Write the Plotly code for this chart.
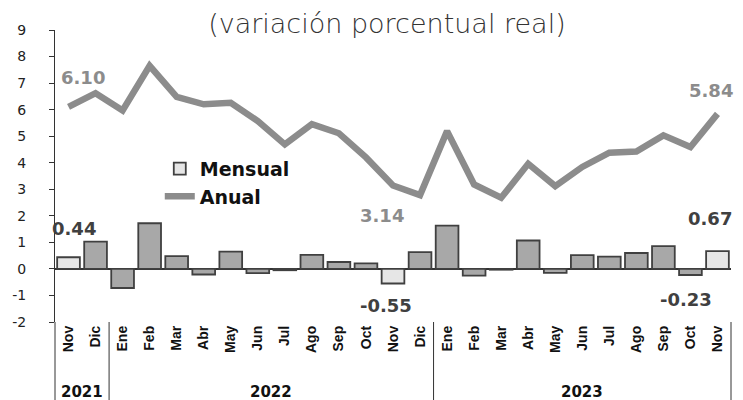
import plotly.graph_objects as go

months = ["Nov", "Dic", "Ene", "Feb", "Mar", "Abr", "May", "Jun", "Jul", "Ago", "Sep", "Oct", "Nov",
          "Dic", "Ene", "Feb", "Mar", "Abr", "May", "Jun", "Jul", "Ago", "Sep", "Oct", "Nov"]
mensual = [0.44, 1.03, -0.72, 1.72, 0.48, -0.21, 0.65, -0.16, -0.05, 0.53, 0.26, 0.21, -0.55,
           0.63, 1.63, -0.25, -0.03, 1.07, -0.15, 0.52, 0.46, 0.60, 0.86, -0.23, 0.67]
anual = [6.10, 6.62, 5.97, 7.65, 6.48, 6.20, 6.26, 5.57, 4.69, 5.45, 5.11, 4.20, 3.14,
         2.78, 5.19, 3.18, 2.68, 3.96, 3.12, 3.84, 4.38, 4.42, 5.03, 4.59, 5.84]
years = ["2021", "2022", "2023"]
year_counts = [2, 12, 11]
highlight = [0, 12, 24]
y_ticks = [-2, -1, 0, 1, 2, 3, 4, 5, 6, 7, 8, 9]
y_ticktext = ["-2", "-1", "0", "1", "2", "3", "4", "5", "6", "7", "8", "9"]

x = list(range(len(months)))
n = len(months)

bar_colors = ["#e6e6e6" if i in highlight else "#a8a8a8" for i in x]

fig = go.Figure()
fig.add_trace(go.Bar(x=x, y=mensual, name="Mensual", width=0.84,
                     marker=dict(color=bar_colors, line=dict(color="#404040", width=1.8))))
fig.add_trace(go.Scatter(x=x, y=anual, name="Anual", mode="lines",
                         line=dict(color="#8c8c8c", width=6.5)))

lab_font_line = dict(family="DejaVu Sans", size=18, color="#8c8c8c", weight="bold")
lab_font_bar = dict(family="DejaVu Sans", size=18, color="#404040", weight="bold")
ann = []
# line labels (offsets in pixels from the data point)
ann.append(dict(x=0, y=anual[0], text="6.10", xshift=14, yshift=29, font=lab_font_line))
ann.append(dict(x=12, y=anual[12], text="3.14", xshift=-11, yshift=-30, font=lab_font_line))
ann.append(dict(x=24, y=anual[24], text="5.84", xshift=-6, yshift=23, font=lab_font_line))
# bar labels
ann.append(dict(x=0, y=mensual[0], text="0.44", xshift=5, yshift=29, font=lab_font_bar))
ann.append(dict(x=12, y=mensual[12], text="-0.55", xshift=-7, yshift=-22, font=lab_font_bar))
ann.append(dict(x=23, y=mensual[23], text="-0.23", xshift=-4, yshift=-24, font=lab_font_bar))
ann.append(dict(x=24, y=mensual[24], text="0.67", xshift=-7, yshift=33, font=lab_font_bar))
for a in ann:
    a.update(xref="x", yref="y", showarrow=False, xanchor="center", yanchor="middle")

# year labels and separators
shapes = []
bottom = -0.3
start = 0
shapes.append(dict(type="line", xref="paper", yref="paper", x0=0, x1=0, y0=0, y1=bottom,
                   line=dict(color="#333333", width=1)))
for yr, c in zip(years, year_counts):
    end = start + c
    center = (start + end - 1) / 2
    ann.append(dict(x=center, y=-0.24, xref="x", yref="paper", text=yr, showarrow=False,
                    font=dict(family="DejaVu Sans", size=15, color="#111111", weight="bold"),
                    xanchor="center", yanchor="middle"))
    sep = end / n
    shapes.append(dict(type="line", xref="paper", yref="paper", x0=sep, x1=sep, y0=0, y1=bottom,
                       line=dict(color="#333333", width=1)))
    start = end

fig.update_layout(
    width=743, height=400,
    margin=dict(l=47, r=20, t=22, b=86),
    paper_bgcolor="white", plot_bgcolor="white",
    title=dict(text="(variación porcentual real)", x=0.51, xanchor="center", y=0.962, yanchor="middle",
               font=dict(family="DejaVu Sans", size=27, color="#333333", weight=200)),
    bargap=0.15,
    showlegend=True,
    legend=dict(x=0.155, y=0.59, xanchor="left", yanchor="top", bgcolor="rgba(0,0,0,0)",
                font=dict(family="DejaVu Sans", size=19, color="#111111", weight="bold"),
                tracegroupgap=0),
    annotations=ann,
    shapes=shapes,
    xaxis=dict(range=[-0.5, n - 0.5], tickmode="array", tickvals=x, ticktext=months,
               tickangle=-90, showgrid=False, showline=False, ticks="", zeroline=False,
               automargin=False,
               tickfont=dict(family="Liberation Sans", size=14, color="#111111", weight="bold")),
    yaxis=dict(range=[-2, 9], tickmode="array", tickvals=y_ticks, ticktext=y_ticktext,
               showgrid=False, showline=True, linecolor="#333333",
               linewidth=1, ticks="outside", ticklen=5, tickcolor="#333333",
               ticklabelstandoff=20, automargin=False,
               zeroline=True, zerolinecolor="#333333", zerolinewidth=2,
               tickfont=dict(family="DejaVu Sans", size=14, color="#222222")),
)

fig.write_html("out.html")
